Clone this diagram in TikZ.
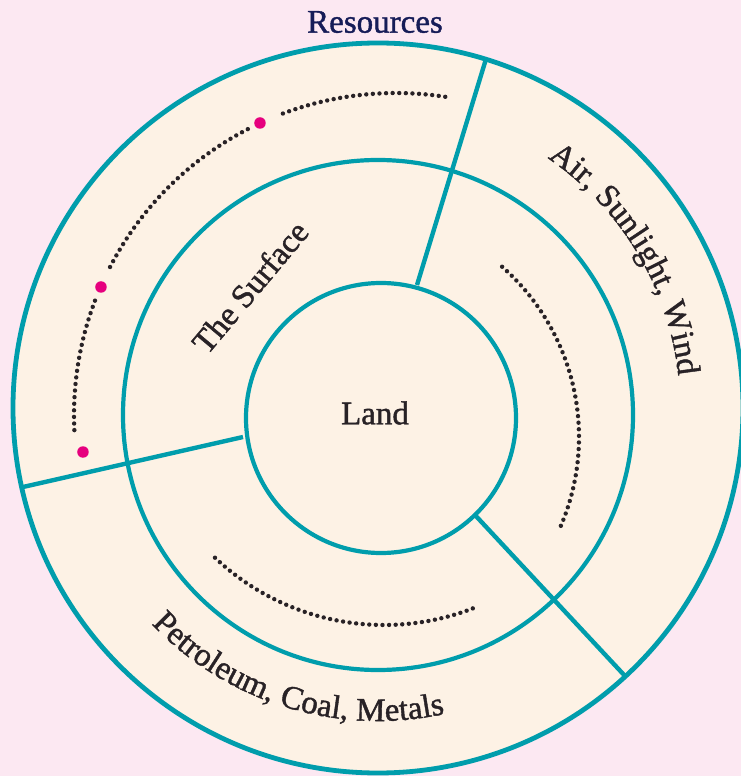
\documentclass[tikz,border=0pt]{standalone}
\usepackage{fontspec}
\setmainfont{Liberation Serif}
\newfontfamily\heavyserif[FakeBold=1.2]{Liberation Serif}
\usetikzlibrary{decorations.text}
\definecolor{bgpink}{RGB}{252,232,242}
\definecolor{cream}{RGB}{253,242,229}
\definecolor{ringteal}{RGB}{0,157,172}
\definecolor{inkdark}{RGB}{40,34,38}
\definecolor{titlenavy}{RGB}{22,28,88}
\definecolor{dotpink}{RGB}{230,0,126}
\begin{document}
\begin{tikzpicture}[x=1pt,y=1pt,
  ring/.style={draw=ringteal,line width=4.2pt},
  spoke/.style={draw=ringteal,line width=4.4pt},
  dotarc/.style={draw=inkdark,line width=4.4pt,line cap=round,dash pattern=on 0pt off 6.6pt},
  pinkdot/.style={circle,fill=dotpink,inner sep=0pt,minimum size=11.5pt},
  lbl/.style={text=inkdark,font=\heavyserif\fontsize{33}{33}\selectfont,inner sep=0pt}]
\fill[bgpink] (-378,-361) rectangle (363,415);
\useasboundingbox (-378,-361) rectangle (363,415);
% outer disc
\path[fill=cream] (0,7) circle[radius=365];
% spokes
\coordinate (s1a) at (39,130);   \coordinate (s1b) at (108,356);
\coordinate (s2a) at (-135,-22); \coordinate (s2b) at (-355,-72);
\coordinate (s3a) at (97,-100);  \coordinate (s3b) at (247,-261);
\draw[spoke] (s1a) -- (s1b);
\draw[spoke] (s2a) -- (s2b);
\draw[spoke] (s3a) -- (s3b);
% rings
\draw[ring,line width=4.8pt] (0,7) circle[radius=365];
\draw[ring] (0,0) circle[radius=255];
\draw[ring,fill=cream] (3,-3) circle[radius=135];
% dotted arcs
\draw[dotarc] ([shift={(18,0)}]81.2:322) arc[start angle=81.2,end angle=111.3,radius=322];
\draw[dotarc] ([shift={(18,0)}]117.4:322) arc[start angle=117.4,end angle=153.4,radius=322];
\draw[dotarc] ([shift={(18,0)}]159.2:322) arc[start angle=159.2,end angle=183.6,radius=322];
\draw[dotarc] ([shift={(-26,-22)}]48.6:227) arc[start angle=48.6,end angle=-23.4,radius=227];
\draw[dotarc] ([shift={(6,36)}]226.6:246) arc[start angle=226.6,end angle=292,radius=246];
% pink dots
\node[pinkdot] (p1) at (-118,292) {};
\node[pinkdot] (p2) at (-277,128) {};
\node[pinkdot] (p3) at (-295,-37) {};
% labels
\node[text=titlenavy,font=\heavyserif\fontsize{33}{33}\selectfont,inner sep=0pt] (title) at (-3,393) {Resources};
\node[lbl] (land) at (-3,2) {Land};
\node[lbl,rotate=50] (surface) at (-128,128) {The Surface};
\path[decorate,decoration={text along path,text align=center,
  text={|\color{inkdark}\heavyserif\fontsize{33}{33}\selectfont|Air, Sunlight, Wind}}]
  ([shift={(0,7)}]62:302) arc[start angle=62,end angle=0,radius=302];
\path[decorate,decoration={text along path,text align=center,
  text={|\color{inkdark}\heavyserif\fontsize{33}{33}\selectfont|Petroleum, Coal, Metals}}]
  ([shift={(0,7)}]218:313) arc[start angle=218,end angle=288,radius=313];
\end{tikzpicture}
\end{document}
